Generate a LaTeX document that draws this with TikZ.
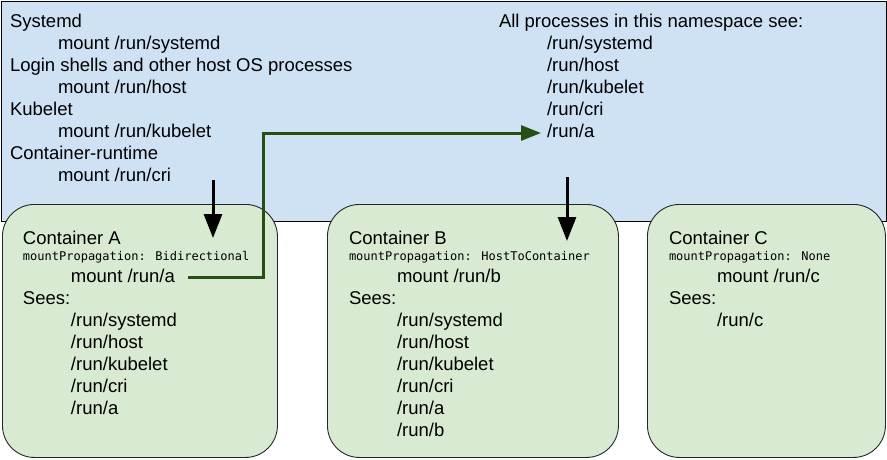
\documentclass[tikz,border=0pt]{standalone}
\usepackage{fontspec}
\setmainfont{Liberation Sans}
\newfontfamily\monof{DejaVu Sans Mono}
\usetikzlibrary{arrows.meta}
\definecolor{nsblue}{HTML}{CFE2F3}
\definecolor{ctgreen}{HTML}{D9EAD3}
\definecolor{lnkgreen}{HTML}{274E13}
\begin{document}
\begin{tikzpicture}[x=1pt,y=-1pt,
  txt/.style={inner sep=0pt, outer sep=0pt, anchor=base west, align=left, font=\fontsize{18.5}{22}\selectfont},
  mono/.style={inner sep=0pt, outer sep=0pt, anchor=base west, font=\monof\fontsize{12}{14}\selectfont},
  nsbox/.style={draw=black, line width=0.9pt, fill=nsblue, anchor=north west, inner sep=0pt},
  ctrbox/.style={draw=black!85, line width=0.9pt, fill=ctgreen, rounded corners=32pt, anchor=north west, inner sep=0pt, minimum height=253pt},
  blkarrow/.style={line width=3pt, -{Triangle[length=24pt,width=18pt]}},
  grnarrow/.style={line width=3pt, draw=lnkgreen, miter limit=10, -{Triangle[length=20pt,width=15pt,fill=lnkgreen]}}
]
\useasboundingbox (0,0) rectangle (887,459);
\node[nsbox, minimum width=885pt, minimum height=220pt] (ns) at (1,1) {};
\node[ctrbox, minimum width=275pt] (ca) at (2,204) {};
\node[ctrbox, minimum width=291pt] (cb) at (327,204) {};
\node[ctrbox, minimum width=238pt] (cc) at (647,204) {};

% base anchor of a multi-line node = baseline of its last line
\node[txt] (host) at (10,181) {Systemd\\\hspace*{48pt}mount /run/systemd\\Login shells and other host OS processes\\\hspace*{48pt}mount /run/host\\Kubelet\\\hspace*{48pt}mount /run/kubelet\\Container-runtime\\\hspace*{48pt}mount /run/cri};
\node[txt] (all) at (499,137) {All processes in this namespace see:\\\hspace*{48pt}/run/systemd\\\hspace*{48pt}/run/host\\\hspace*{48pt}/run/kubelet\\\hspace*{48pt}/run/cri\\\hspace*{48pt}/run/a};

\node[txt] (ta) at (23,244) {Container A};
\node[mono] (ma) at (23,260) {mountPropagation: Bidirectional};
\node[txt] (ba) at (23,414) {\hspace*{48pt}mount /run/a\\Sees:\\\hspace*{48pt}/run/systemd\\\hspace*{48pt}/run/host\\\hspace*{48pt}/run/kubelet\\\hspace*{48pt}/run/cri\\\hspace*{48pt}/run/a};

\node[txt] (tb) at (349,244) {Container B};
\node[mono] (mb) at (349,260) {mountPropagation: HostToContainer};
\node[txt] (bb) at (349,436) {\hspace*{48pt}mount /run/b\\Sees:\\\hspace*{48pt}/run/systemd\\\hspace*{48pt}/run/host\\\hspace*{48pt}/run/kubelet\\\hspace*{48pt}/run/cri\\\hspace*{48pt}/run/a\\\hspace*{48pt}/run/b};

\node[txt] (tc) at (669,244) {Container C};
\node[mono] (mc) at (669,260) {mountPropagation: None};
\node[txt] (bc) at (669,326) {\hspace*{48pt}mount /run/c\\Sees:\\\hspace*{48pt}/run/c};

\coordinate (a1s) at (213,180);
\coordinate (a1e) at (213,238);
\coordinate (a2s) at (567,177);
\coordinate (a2e) at (567,241);
\coordinate (gs) at (188,277);
\coordinate (gbend) at (263,133);
\coordinate (ge) at (541,133);

\draw[blkarrow] (a1s) -- (a1e);
\draw[blkarrow] (a2s) -- (a2e);
\draw[grnarrow] (gs) -| (gbend) -- (ge);
\end{tikzpicture}
\end{document}
